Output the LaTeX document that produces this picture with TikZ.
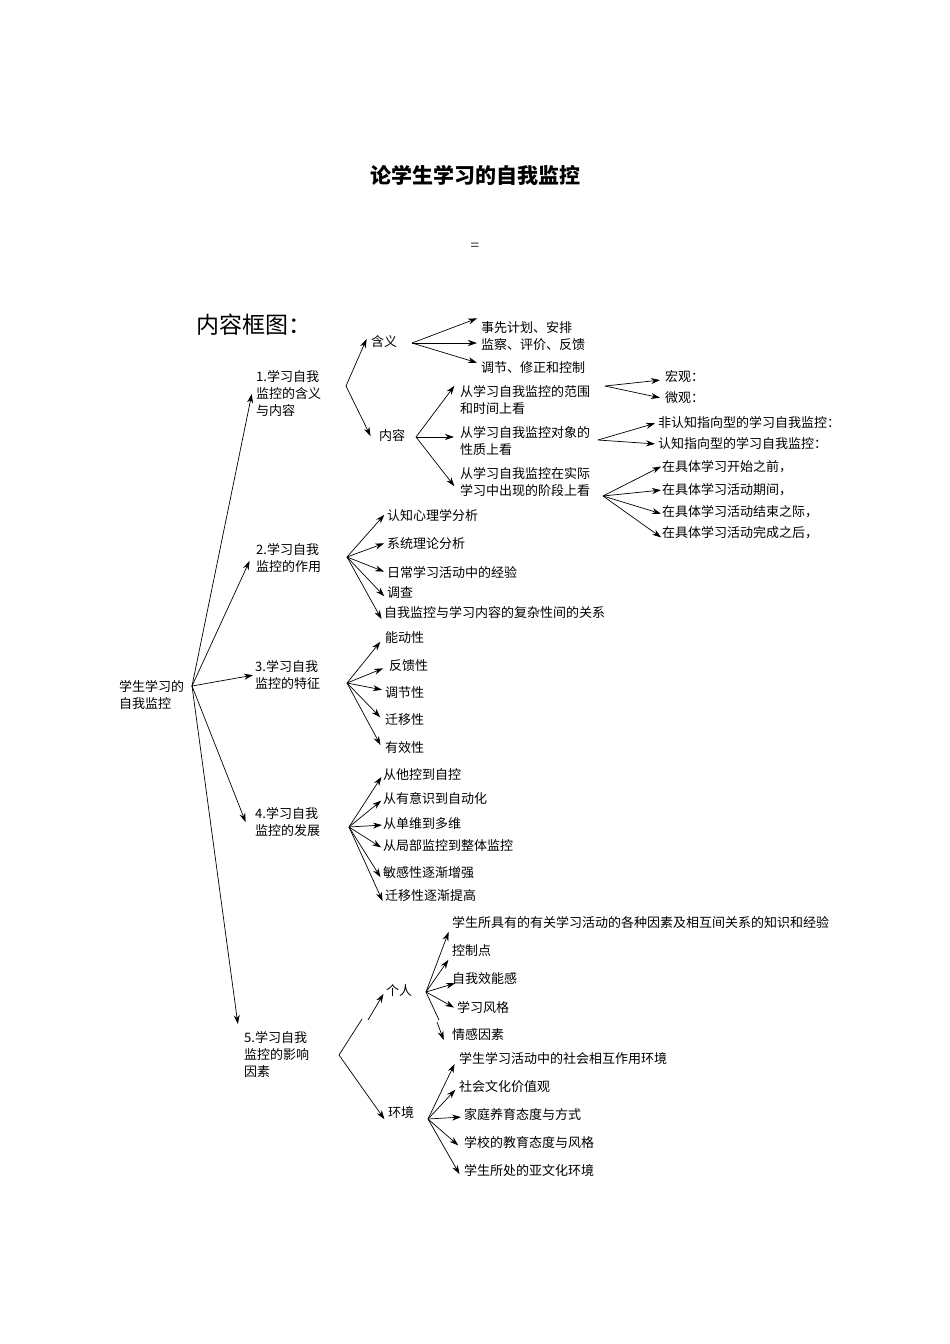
\documentclass[tikz,border=0pt]{standalone}
\usepackage{fontspec}
\setmainfont{Liberation Serif}
\newfontfamily\cjk{Noto Sans CJK SC}
\usetikzlibrary{arrows.meta}
\tikzset{
 lf/.style={font=\cjk\fontsize{13}{17}\selectfont,inner sep=1pt,anchor=west,align=left},
 arr/.style={-{Stealth[length=9pt,width=6pt]},line width=0.7pt,shorten >=1pt},
 ln/.style={line width=0.7pt}
}
\begin{document}
\begin{tikzpicture}[x=1pt,y=-1pt]
\useasboundingbox[fill=white] (0,0) rectangle (950,1344);
\node[font=\cjk\bfseries\fontsize{21}{24}\selectfont] (title) at (475,175) {论学生学习的自我监控};
\node[font=\fontsize{16}{18}\selectfont] (eq) at (475,247) {=};
\node[font=\cjk\fontsize{23}{26}\selectfont,anchor=west,inner sep=0] (kt) at (196,325) {内容框图：};
% root
\node[lf] (root) at (118,695) {学生学习的\\自我监控};
\coordinate (r) at (192,686);
\node[lf] (n1) at (255,394) {1.学习自我\\监控的含义\\与内容};
\node[lf] (n2) at (255,558) {2.学习自我\\监控的作用};
\node[lf] (n3) at (254,675) {3.学习自我\\监控的特征};
\node[lf] (n4) at (254,822) {4.学习自我\\监控的发展};
\node[lf] (n5) at (243,1054) {5.学习自我\\监控的影响\\因素};
\draw[arr] (r) -- (252,393);
\draw[arr] (r) -- (250,560);
\draw[arr] (r) -- (n3.west);
\draw[arr] (r) -- (246,823);
\draw[arr] (r) -- (238,1025);
% 1
\coordinate (b1) at (346,386);
\node[lf] (hy) at (370,342) {含义};
\node[lf] (nr) at (378,436) {内容};
\draw[arr] (b1) -- (367,338);
\draw[arr] (b1) -- (371,437);
\coordinate (bhy) at (412,343);
\node[lf] (h1) at (480,328) {事先计划、安排};
\node[lf] (h2) at (480,345) {监察、评价、反馈};
\node[lf] (h3) at (480,368) {调节、修正和控制};
\draw[arr] (bhy) -- (478,318);
\draw[arr] (bhy) -- (478,343);
\draw[arr] (bhy) -- (478,363);
\coordinate (bnr) at (416,437);
\node[lf] (c1) at (459,400) {从学习自我监控的范围\\和时间上看};
\node[lf] (c2) at (459,441) {从学习自我监控对象的\\性质上看};
\node[lf] (c3) at (459,482) {从学习自我监控在实际\\学习中出现的阶段上看};
\draw[arr] (bnr) -- (455,385);
\draw[arr] (bnr) -- (455,437);
\draw[arr] (bnr) -- (455,487);
\coordinate (bc1) at (605,386);
\node[lf] (d1) at (664,377) {宏观：};
\node[lf] (d2) at (664,398) {微观：};
\draw[arr] (bc1) -- (661,380);
\draw[arr] (bc1) -- (661,398);
\coordinate (bc2) at (598,440);
\node[lf] (e1) at (657,423) {非认知指向型的学习自我监控：};
\node[lf] (e2) at (657,444) {认知指向型的学习自我监控：};
\draw[arr] (bc2) -- (656,423);
\draw[arr] (bc2) -- (656,444);
\coordinate (bc3) at (603,496);
\node[lf] (f1) at (661,467) {在具体学习开始之前，};
\node[lf] (f2) at (661,490) {在具体学习活动期间，};
\node[lf] (f3) at (661,512) {在具体学习活动结束之际，};
\node[lf] (f4) at (661,533) {在具体学习活动完成之后，};
\draw[arr] (bc3) -- (662,466);
\draw[arr] (bc3) -- (662,490);
\draw[arr] (bc3) -- (662,514);
\draw[arr] (bc3) -- (662,538);
% 2
\coordinate (b2) at (347,557);
\node[lf] (g1) at (386,516) {认知心理学分析};
\node[lf] (g2) at (386,544) {系统理论分析};
\node[lf] (g3) at (386,572) {日常学习活动中的经验};
\node[lf] (g4) at (386,593) {调查};
\node[lf] (g5) at (383,613) {自我监控与学习内容的复杂性间的关系};
\draw[arr] (b2) -- (385,514);
\draw[arr] (b2) -- (385,543);
\draw[arr] (b2) -- (385,572);
\draw[arr] (b2) -- (385,597);
\draw[arr] (b2) -- (382,620);
% 3
\coordinate (b3) at (347,683);
\node[lf] (k1) at (384,638) {能动性};
\node[lf] (k2) at (388,666) {反馈性};
\node[lf] (k3) at (384,693) {调节性};
\node[lf] (k4) at (384,720) {迁移性};
\node[lf] (k5) at (384,748) {有效性};
\draw[arr] (b3) -- (381,641);
\draw[arr] (b3) -- (384,668);
\draw[arr] (b3) -- (383,690);
\draw[arr] (b3) -- (381,718);
\draw[arr] (b3) -- (381,746);
% 4
\coordinate (b4) at (349,827);
\node[lf] (m1) at (382,775) {从他控到自控};
\node[lf] (m2) at (382,798) {从有意识到自动化};
\node[lf] (m3) at (382,824) {从单维到多维};
\node[lf] (m4) at (382,846) {从局部监控到整体监控};
\node[lf] (m5) at (382,873) {敏感性逐渐增强};
\node[lf] (m6) at (384,896) {迁移性逐渐提高};
\draw[arr] (b4) -- (382,776);
\draw[arr] (b4) -- (382,800);
\draw[arr] (b4) -- (383,825);
\draw[arr] (b4) -- (382,848);
\draw[arr] (b4) -- (381,878);
\draw[arr] (b4) -- (383,902);
% 5
\coordinate (b5) at (339,1055);
\node[lf] (gr) at (385,991) {个人};
\node[lf] (hj) at (387,1113) {环境};
\draw[ln] (b5) -- (362,1019);
\draw[arr] (368,1020) -- (384,993);
\draw[arr] (b5) -- (385,1120);
\coordinate (bgr) at (426,992);
\node[lf] (p1) at (451,923) {学生所具有的有关学习活动的各种因素及相互间关系的知识和经验};
\node[lf] (p2) at (451,951) {控制点};
\node[lf] (p3) at (451,979) {自我效能感};
\node[lf] (p4) at (456,1007) {学习风格};
\node[lf] (p5) at (451,1035) {情感因素};
\draw[arr] (bgr) -- (449,931);
\draw[arr] (bgr) -- (449,959);
\draw[arr] (bgr) -- (456,983);
\draw[arr] (bgr) -- (455,1008);
\draw[ln] (bgr) -- (439,1020);
\draw[arr] (437,1022) -- (444,1041);
\coordinate (bhj) at (428,1119);
\node[lf] (q1) at (458,1059) {学生学习活动中的社会相互作用环境};
\node[lf] (q2) at (458,1087) {社会文化价值观};
\node[lf] (q3) at (463,1115) {家庭养育态度与方式};
\node[lf] (q4) at (463,1143) {学校的教育态度与风格};
\node[lf] (q5) at (463,1171) {学生所处的亚文化环境};
\draw[arr] (bhj) -- (455,1063);
\draw[arr] (bhj) -- (456,1089);
\draw[arr] (bhj) -- (462,1117);
\draw[arr] (bhj) -- (459,1146);
\draw[arr] (bhj) -- (460,1175);
\end{tikzpicture}
\end{document}
